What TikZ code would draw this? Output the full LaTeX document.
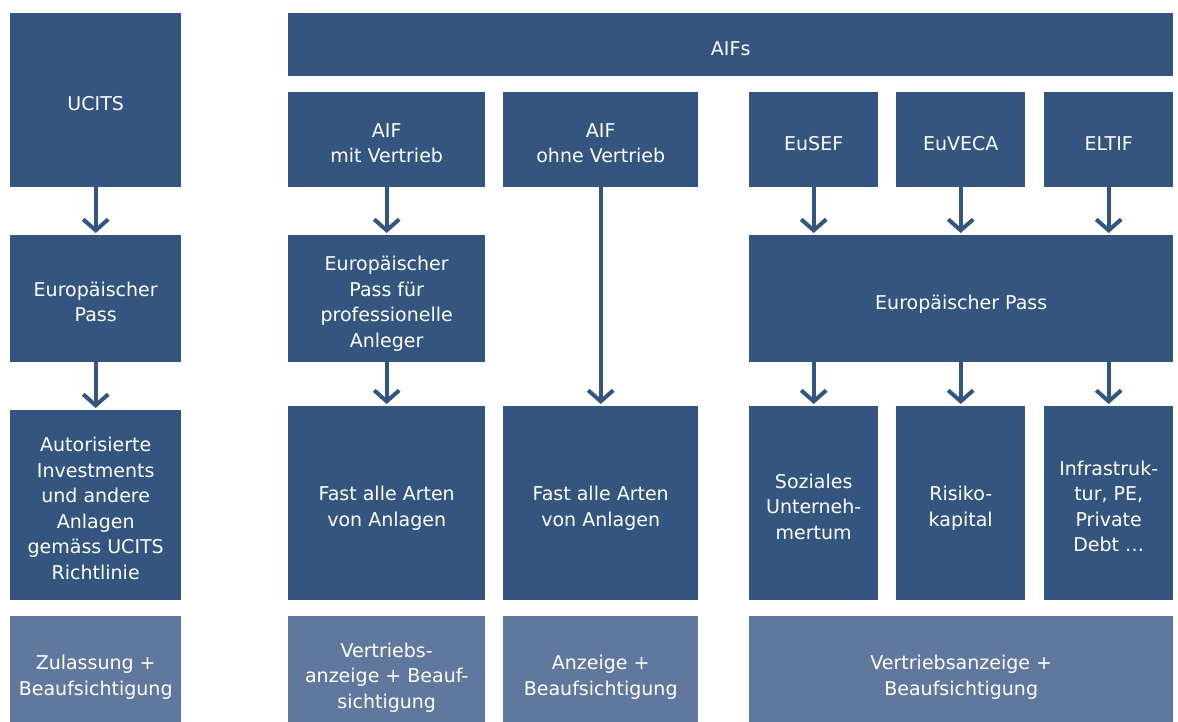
\documentclass[tikz,border=0pt]{standalone}
\usepackage{fontspec}
\setmainfont{DejaVu Sans}
\usetikzlibrary{arrows.meta}
\definecolor{dunkel}{HTML}{335580}
\definecolor{hell}{HTML}{61789E}
\newcommand{\ob}{\rule{0pt}{25.8pt}}
\tikzset{
  kasten/.style={rectangle,fill=dunkel,text=white,inner sep=0pt,anchor=north west,align=center,
    font=\fontsize{19}{25.5}\selectfont,
    execute at end node={\rule[-5pt]{0pt}{5pt}}},
  heller/.style={kasten,fill=hell},
  pfeil/.style={draw=dunkel,line width=4pt,shorten >=2pt,-{Straight Barb[length=11pt,width=25pt]}}
}
\begin{document}
\begin{tikzpicture}[x=1pt,y=-1pt]
\useasboundingbox (0,0) rectangle (1178,722);
% linke Spalte
\node[kasten,minimum width=171pt,minimum height=174pt] (ucits) at (10,13) {\ob UCITS};
\node[kasten,minimum width=171pt,minimum height=127pt] (passl) at (10,235) {\ob Europäischer\\Pass};
\node[kasten,minimum width=171pt,minimum height=190pt] (ucitsanl) at (10,410) {\ob Autorisierte\\Investments\\und andere\\Anlagen\\gemäss UCITS\\Richtlinie};
\node[heller,minimum width=171pt,minimum height=112pt] (zul) at (10,616) {\ob Zulassung +\\Beaufsichtigung};
% AIFs
\node[kasten,minimum width=885pt,minimum height=63pt] (aifs) at (288,13) {\ob AIFs};
\node[kasten,minimum width=197pt,minimum height=95pt] (mit) at (288,92) {\ob AIF\\mit Vertrieb};
\node[kasten,minimum width=195pt,minimum height=95pt] (ohne) at (503,92) {\ob AIF\\ohne Vertrieb};
\node[kasten,minimum width=197pt,minimum height=127pt] (passp) at (288,235) {\ob Europäischer\\Pass für\\professionelle\\Anleger};
\node[kasten,minimum width=197pt,minimum height=194pt] (fast1) at (288,406) {\ob Fast alle Arten\\von Anlagen};
\node[kasten,minimum width=195pt,minimum height=194pt] (fast2) at (503,406) {\ob Fast alle Arten\\von Anlagen};
\node[heller,minimum width=197pt,minimum height=112pt] (vanz) at (288,616) {\ob Vertriebs-\\anzeige + Beauf-\\sichtigung};
\node[heller,minimum width=195pt,minimum height=112pt] (anz) at (503,616) {\ob Anzeige +\\Beaufsichtigung};
% EU-Fonds
\foreach \n/\x/\t/\u in {eusef/749/EuSEF/{Soziales\\Unterneh-\\mertum},
                         euveca/896/EuVECA/{Risiko-\\kapital},
                         eltif/1044/ELTIF/{Infrastruk-\\tur, PE,\\Private\\Debt \dots}}{
  \node[kasten,minimum width=129pt,minimum height=95pt] (\n) at (\x,92) {\ob\t};
  \node[kasten,minimum width=129pt,minimum height=194pt] (\n anl) at (\x,406) {\ob\u};
}
\node[kasten,minimum width=424pt,minimum height=127pt] (passr) at (749,235) {\ob Europäischer Pass};
\node[heller,minimum width=424pt,minimum height=112pt] (vanzr) at (749,616) {\ob Vertriebsanzeige +\\Beaufsichtigung};
% Pfeile
\draw[pfeil] (ucits) -- (passl);
\draw[pfeil] (passl) -- (ucitsanl);
\draw[pfeil] (mit) -- (passp);
\draw[pfeil] (passp) -- (fast1);
\draw[pfeil] (ohne) -- (fast2);
\foreach \n in {eusef,euveca,eltif}{
  \draw[pfeil] (\n) -- (\n |- passr.north);
  \draw[pfeil] (\n |- passr.south) -- (\n anl);
}
\end{tikzpicture}
\end{document}
